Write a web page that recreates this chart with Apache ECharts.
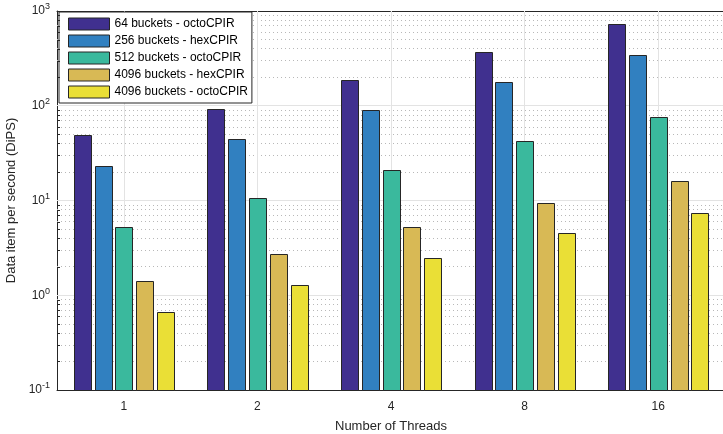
<!DOCTYPE html>
<html>
<head>
<meta charset="utf-8">
<script src="https://cdn.jsdelivr.net/npm/echarts@6/dist/echarts.min.js"></script>
<style>html,body{margin:0;padding:0;background:#fff}#c{width:723px;height:434px}</style>
</head>
<body>
<div id="c"></div>
<script>
const categories = ['1', '2', '4', '8', '16'];
const seriesNames = ['64 buckets - octoCPIR', '256 buckets - hexCPIR', '512 buckets - octoCPIR', '4096 buckets - hexCPIR', '4096 buckets - octoCPIR'];
const s64octo = [49, 92, 185, 367, 729];
const s256hex = [23, 45, 90, 179, 344];
const s512octo = [5.3, 10.6, 21, 42, 77];
const s4096hex = [1.4, 2.75, 5.2, 9.5, 16];
const s4096octo = [0.66, 1.28, 2.45, 4.5, 7.4];
const colors = ['#40308f', '#3180c0', '#3ab99d', '#d8b955', '#eadf36'];
const yTicks = [0.1, 1, 10, 100, 1000];

const allData = [s64octo, s256hex, s512octo, s4096hex, s4096octo];
const font = 'Liberation Sans, Arial, sans-serif';
const yMin = yTicks[0];

const minorVals = [];
for (let k = 0; k < yTicks.length - 1; k++) {
  for (let m = 2; m <= 9; m++) minorVals.push(+(yTicks[k] * m).toPrecision(3));
}
const markData = minorVals.map(v => ({ yAxis: v, lineStyle: { type: [1, 3], color: '#b8b8b8', width: 1 } }))
  .concat(yTicks.slice(1, -1).map(v => ({ yAxis: v, lineStyle: { type: 'solid', color: '#e3e3e3', width: 1 } })))
  .concat(categories.map(c => ({ xAxis: c, lineStyle: { type: 'solid', color: '#e3e3e3', width: 1 } })));

const BAR_FRAC = 17 / 133.6;
const STEP_FRAC = 20.8 / 133.6;

const series = seriesNames.map((name, i) => ({
  name: name,
  type: 'custom',
  data: allData[i].map((v, j) => [j, v]),
  encode: { x: 0, y: 1 },
  z: 3,
  itemStyle: { color: colors[i], borderColor: '#262626', borderWidth: 1 },
  renderItem: (params, api) => {
    const top = api.coord([api.value(0), api.value(1)]);
    const base = api.coord([api.value(0), yMin]);
    const band = api.size([1, 1])[0];
    const bw = band * BAR_FRAC;
    const cx = top[0] + (i - 2) * band * STEP_FRAC;
    return {
      type: 'rect',
      shape: { x: Math.round(cx - bw / 2) + 0.5, y: Math.round(top[1]) + 0.5, width: Math.round(bw), height: Math.round(base[1] - top[1]) },
      style: { fill: colors[i], stroke: '#262626', lineWidth: 1 }
    };
  }
}));

// minor y ticks on the left axis, plus background grid lines
series.push({
  name: 'minorTicks',
  type: 'custom',
  silent: true,
  data: minorVals.map(v => [0, v]),
  encode: { x: 0, y: 1 },
  z: 4,
  renderItem: (params, api) => {
    const p = api.coord([0, api.value(1)]);
    const x0 = params.coordSys.x;
    const y = Math.round(p[1]) + 0.5;
    return { type: 'line', shape: { x1: x0, y1: y, x2: x0 + 3, y2: y }, style: { stroke: '#262626', lineWidth: 1 } };
  },
  markLine: {
    silent: true, symbol: 'none', label: { show: false }, z: 1, animation: false,
    data: markData
  }
});

const chart = echarts.init(document.getElementById('c'), null, { renderer: 'canvas' });
chart.setOption({
  animation: false,
  backgroundColor: '#fff',
  textStyle: { fontFamily: font },
  grid: { left: 57, top: 11, width: 668, height: 379, containLabel: false, outerBoundsMode: 'none' },
  legend: {
    orient: 'vertical', left: 59, top: 12,
    icon: 'rect',
    itemWidth: 41, itemHeight: 12, itemGap: 3,
    backgroundColor: '#fff', borderColor: '#262626', borderWidth: 1,
    padding: [5, 4, 4, 9],
    itemStyle: { borderColor: '#262626', borderWidth: 1 },
    textStyle: { fontSize: 12, lineHeight: 14, color: '#000', fontFamily: font },
    data: seriesNames
  },
  xAxis: [{
    type: 'category', data: categories, position: 'bottom',
    axisLine: { lineStyle: { color: '#262626', width: 1 } },
    axisTick: { alignWithLabel: true, inside: true, length: 5, lineStyle: { color: '#262626' } },
    axisLabel: { fontSize: 12, color: '#262626', margin: 11, fontFamily: font },
    splitLine: { show: false },
    name: 'Number of Threads', nameLocation: 'middle', nameGap: 30,
    nameTextStyle: { fontSize: 13, color: '#262626', fontFamily: font }
  }, {
    type: 'category', data: categories, position: 'top',
    axisLine: { lineStyle: { color: '#262626', width: 1 } },
    axisTick: { alignWithLabel: true, inside: true, length: 5, lineStyle: { color: '#262626' } },
    axisLabel: { show: false }, splitLine: { show: false }
  }],
  yAxis: [{
    type: 'log', logBase: 10, min: yTicks[0], max: yTicks[yTicks.length - 1],
    axisLine: { show: true, lineStyle: { color: '#262626', width: 1 } },
    axisTick: { show: true, inside: true, length: 5, lineStyle: { color: '#262626' } },
    splitLine: { show: false },
    axisLabel: {
      fontSize: 12, color: '#262626', margin: 7, fontFamily: font,
      formatter: v => '10{s|' + Math.round(Math.log10(v)) + '}',
      rich: { s: { fontSize: 9, verticalAlign: 'top', padding: [0, 0, 8, 0], color: '#262626', fontFamily: font } }
    },
    name: 'Data item per second (DiPS)', nameLocation: 'middle', nameGap: 37,
    nameTextStyle: { fontSize: 13, color: '#262626', fontFamily: font }
  }],
  series: series
});
</script>
</body>
</html>
